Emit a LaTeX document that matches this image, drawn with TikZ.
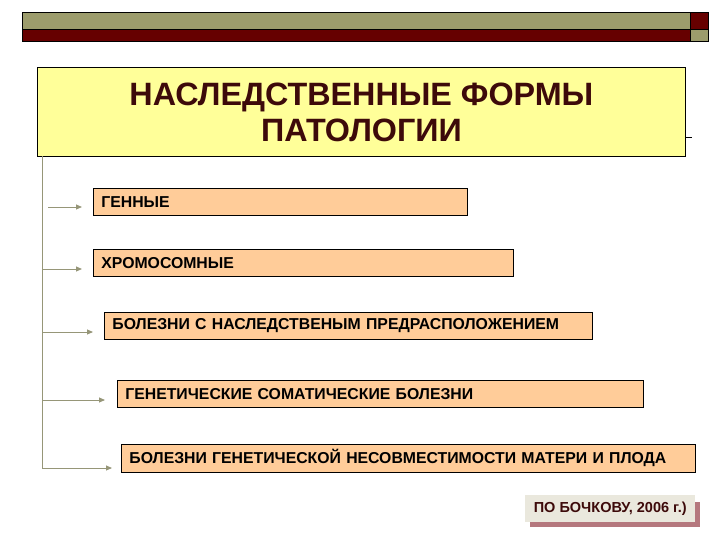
\documentclass[tikz,border=0pt]{standalone}
\usepackage{fontspec}
\setmainfont{Liberation Sans}
\usepackage{tikz}
\usetikzlibrary{arrows.meta}

\definecolor{olivebar}{RGB}{156,156,108}
\definecolor{darkred}{RGB}{102,0,0}
\definecolor{titlefill}{RGB}{255,255,153}
\definecolor{titletext}{RGB}{61,10,10}
\definecolor{peach}{RGB}{255,204,153}
\definecolor{spinecol}{RGB}{150,150,120}
\definecolor{notefill}{RGB}{234,232,221}
\definecolor{noteshadow}{RGB}{181,120,126}

\tikzset{
  formbox/.style={draw=black, line width=0.8pt, fill=peach, anchor=north west,
    minimum height=27pt, inner xsep=8pt, inner ysep=0pt, align=left,
    font=\bfseries\fontsize{15.8}{18}\selectfont},
  arr/.style={draw=spinecol, line width=0.9pt, -{Triangle[length=6pt,width=5pt]}}
}

\begin{document}
\begin{tikzpicture}[x=1pt,y=-1pt]
\useasboundingbox (0,0) rectangle (720,540);
% top bar
\draw[fill=olivebar, line width=0.6pt] (22,12) rectangle (690,29);
\draw[fill=darkred, line width=0.6pt] (22,29) rectangle (690,41);
\draw[fill=darkred, line width=0.6pt] (690,12) rectangle (708,29);
\draw[fill=olivebar, line width=0.6pt] (690,29) rectangle (708,41);

% title
\node[draw=black, line width=0.8pt, fill=titlefill, anchor=north west,
  minimum width=648pt, minimum height=89pt, align=center, text=titletext,
  font=\bfseries\fontsize{32.3}{37}\selectfont] (title) at (37,67)
  {НАСЛЕДСТВЕННЫЕ ФОРМЫ\\[-1pt]ПАТОЛОГИИ};
\coordinate (tick) at (692,137);
\draw[line width=0.6pt] (title.east |- tick) -- (tick);

% forms
\node[formbox, text width=358pt] (g1) at (93,188) {ГЕННЫЕ};
\node[formbox, text width=404pt] (g2) at (93,249) {ХРОМОСОМНЫЕ};
\node[formbox, text width=472pt] (g3) at (104,312) {БОЛЕЗНИ С НАСЛЕДСТВЕНЫМ ПРЕДРАСПОЛОЖЕНИЕМ};
\node[formbox, text width=510pt] (g4) at (117,380) {ГЕНЕТИЧЕСКИЕ СОМАТИЧЕСКИЕ БОЛЕЗНИ};
\node[formbox, text width=558pt, minimum height=28pt] (g5) at (121,444) {БОЛЕЗНИ ГЕНЕТИЧЕСКОЙ НЕСОВМЕСТИМОСТИ МАТЕРИ И ПЛОДА};

% spine and arrows
\coordinate (top) at (42,156);
\coordinate (t1) at (82,207);
\coordinate (t2) at (82,269);
\coordinate (t3) at (93,332);
\coordinate (t4) at (105,400);
\coordinate (t5) at (112,468);
\draw[draw=spinecol, line width=0.9pt] (top) -- (top |- t5);
\draw[arr] ([xshift=6pt]top |- t1) -- (t1);
\draw[arr] (top |- t2) -- (t2);
\draw[arr] (top |- t3) -- (t3);
\draw[arr] (top |- t4) -- (t4);
\draw[arr] (top |- t5) -- (t5);

% source
\fill[noteshadow] (530,502) rectangle (700,527);
\node[fill=notefill, anchor=north west, minimum width=170pt, minimum height=27pt,
  text=titletext, font=\bfseries\fontsize{14.5}{16}\selectfont] (src) at (525,495)
  {ПО БОЧКОВУ, 2006 г.)};
\end{tikzpicture}
\end{document}
